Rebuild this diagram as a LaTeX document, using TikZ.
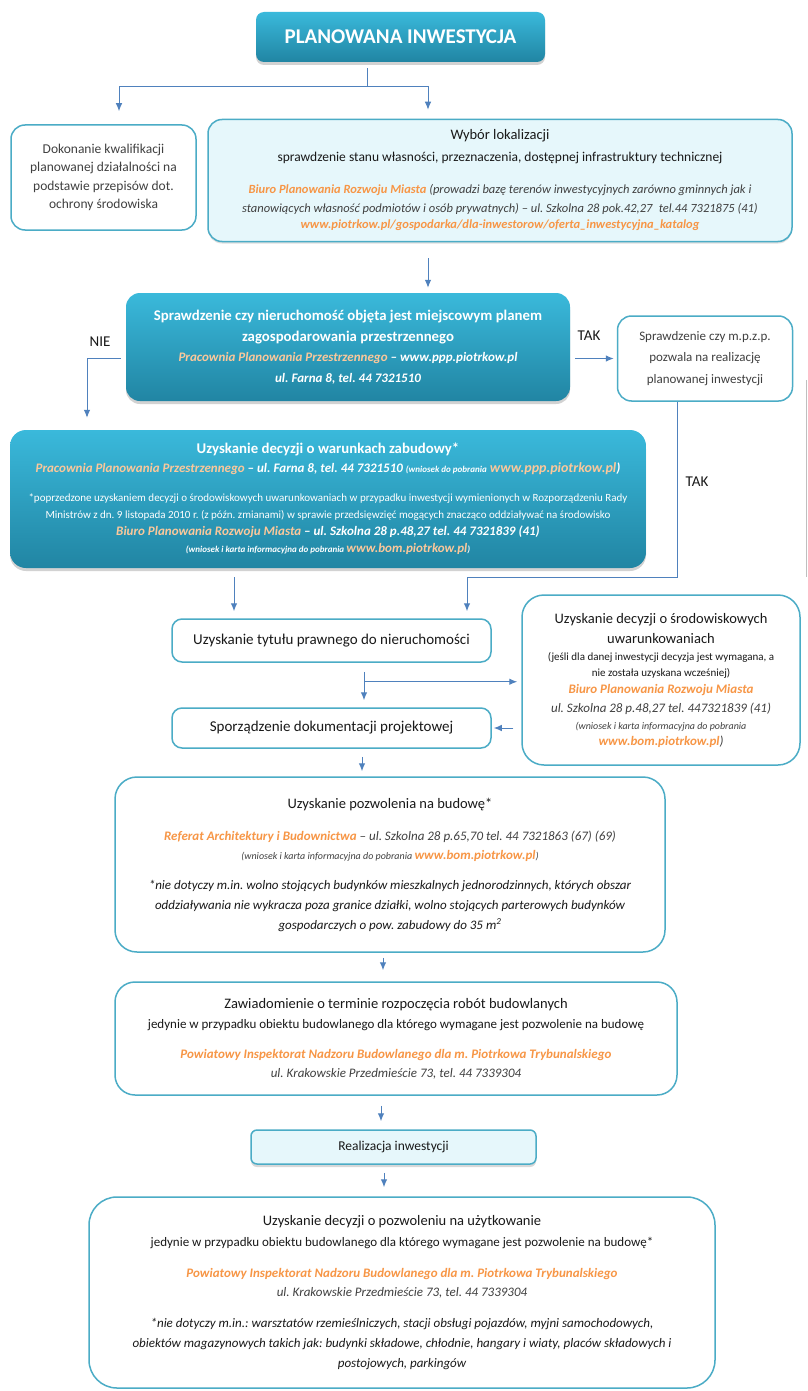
\documentclass[tikz,border=0pt]{standalone}
\usepackage{fontspec}
\setmainfont{Carlito}
\usetikzlibrary{shapes,arrows,arrows.meta,positioning,shadows}
\usepackage{xcolor}
\frenchspacing

\definecolor{ramka}{RGB}{75,172,198}
\definecolor{strzalka}{RGB}{79,129,189}
\definecolor{pomar}{RGB}{247,150,70}
\definecolor{jpomar}{RGB}{251,200,155}
\definecolor{morskig}{RGB}{58,185,219}
\definecolor{morskid}{RGB}{33,133,163}
\definecolor{blekit}{RGB}{230,247,251}
\definecolor{tekst}{RGB}{25,25,25}
\definecolor{szary}{RGB}{64,64,64}

\newcommand{\rozmiar}[2]{\fontsize{#1}{#2}\selectfont}
\newcommand{\pomb}{\bfseries\itshape\color{pomar}}
\newcommand{\jpom}{\color{jpomar}}

\tikzset{
  morski/.style={rectangle, rounded corners=14pt, top color=morskig, bottom color=morskid,
    draw=none, text=white, align=center, inner sep=0pt,
    drop shadow={shadow xshift=0pt, shadow yshift=-3pt, opacity=0.35}},
  bialy/.style={rectangle, rounded corners=14pt, draw=ramka, line width=1.5pt,
    fill=white, text=tekst, align=center, inner sep=0pt},
  jasnyblok/.style={bialy, fill=blekit},
  strz/.style={-{Latex[length=8pt,width=6.5pt]}, draw=strzalka, line width=1pt},
  linia/.style={draw=strzalka, line width=1pt},
  etykieta/.style={text=tekst, font=\rozmiar{15}{17}},
}

\begin{document}
\begin{tikzpicture}[x=1pt, y=-1pt]
    \useasboundingbox[fill=white] (0,0) rectangle (807,1391);

    % Bloki
    \node[morski, rounded corners=8pt, minimum width=289, minimum height=50,
      font=\bfseries\rozmiar{21}{23}] (start) at (400.5,37) {PLANOWANA INWESTYCJA};

    \node[bialy, minimum width=185, minimum height=105, text=szary,
      font=\rozmiar{13.5}{18.5}] (dok) at (103.5,177.5)
      {Dokonanie kwalifikacji\\planowanej działalności na\\podstawie przepisów dot.\\ochrony środowiska};

    \node[jasnyblok, minimum width=584, minimum height=122,
      drop shadow={shadow xshift=0pt, shadow yshift=-2pt, opacity=0.25},
      font=\rozmiar{13.5}{19}] (wyb) at (500,180.5)
      {{\rozmiar{14.5}{19}Wybór lokalizacji}\\[3pt]
       sprawdzenie stanu własności, przeznaczenia, dostępnej infrastruktury technicznej\\[13pt]
       {\rozmiar{12.5}{19}\pomb Biuro Planowania Rozwoju Miasta \mdseries\color{szary}(prowadzi bazę terenów inwestycyjnych zarówno gminnych jak i}\\
       {\rozmiar{12.5}{19}\itshape\color{szary}stanowiących własność podmiotów i osób prywatnych) – ul. Szkolna 28 pok.42,27\enspace tel.44 7321875 (41)}\\[-3pt]
       {\rozmiar{12.5}{19}\pomb www.piotrkow.pl/gospodarka/dla-inwestorow/oferta\_inwestycyjna\_katalog}};

    \node[morski, minimum width=444, minimum height=108,
      font=\bfseries\rozmiar{14.8}{20.5}] (spr) at (348,347)
      {Sprawdzenie czy nieruchomość objęta jest miejscowym planem\\
       zagospodarowania przestrzennego\\
       {\itshape\rozmiar{13}{20}{\jpom Pracownia Planowania Przestrzennego} – www.ppp.piotrkow.pl}\\
       {\itshape\rozmiar{13}{20}ul. Farna 8, tel. 44 7321510}};

    \node[bialy, minimum width=175, minimum height=85, text=szary,
      font=\rozmiar{13}{21.5}] (mpzp) at (705,358.5)
      {Sprawdzenie czy m.p.z.p.\\pozwala na realizację\\planowanej inwestycji};

    \node[morski, rounded corners=16pt, minimum width=636, minimum height=138,
      font=\rozmiar{13}{17}] (war) at (328,499)
      {{\bfseries\rozmiar{14.8}{17}Uzyskanie decyzji o warunkach zabudowy*}\\[2pt]
       {\bfseries\itshape{\jpom Pracownia Planowania Przestrzennego} – ul. Farna 8, tel. 44 7321510 {\rozmiar{9}{10}(wniosek do pobrania} {\jpom\rozmiar{14}{10}www.ppp.piotrkow.pl})}\\[12pt]
       {\rozmiar{11}{12}*poprzedzone uzyskaniem decyzji o środowiskowych uwarunkowaniach w przypadku inwestycji wymienionych w Rozporządzeniu Rady}\\
       {\rozmiar{11}{12}Ministrów z dn. 9 listopada 2010 r. (z późn. zmianami) w sprawie przedsięwzięć mogących znacząco oddziaływać na środowisko}\\
       {\bfseries\itshape{\jpom Biuro Planowania Rozwoju Miasta} – ul. Szkolna 28 p.48,27 tel. 44 7321839 (41)}\\
       {\bfseries\itshape\rozmiar{9}{10}(wniosek i karta informacyjna do pobrania {\jpom\rozmiar{13}{10}www.bom.piotrkow.pl})}};

    \node[bialy, rounded corners=10pt, minimum width=319, minimum height=43,
      font=\rozmiar{15}{17}] (tyt) at (331.5,640.5) {Uzyskanie tytułu prawnego do nieruchomości};

    \node[bialy, rounded corners=10pt, minimum width=319, minimum height=40,
      font=\rozmiar{15}{17}] (spo) at (331.5,728) {Sporządzenie dokumentacji projektowej};

    \node[bialy, rounded corners=22pt, minimum width=278, minimum height=170,
      font=\rozmiar{13}{17}] (sro) at (661,680)
      {{\rozmiar{14.5}{17}Uzyskanie decyzji o środowiskowych}\\[3pt]
       {\rozmiar{14.5}{17}uwarunkowaniach}\\
       {\rozmiar{11}{12}(jeśli dla danej inwestycji decyzja jest wymagana, a}\\[-1pt]
       {\rozmiar{11}{12}nie została uzyskana wcześniej)}\\
       {\pomb Biuro Planowania Rozwoju Miasta}\\[2pt]
       {\itshape\color{szary}ul. Szkolna 28 p.48,27 tel. 447321839 (41)}\\
       {\itshape\color{szary}\rozmiar{10}{12}(wniosek i karta informacyjna do pobrania}\\[-1pt]
       {\pomb www.bom.piotrkow.pl{\mdseries\color{szary})}}};

    \node[bialy, rounded corners=22pt, minimum width=550, minimum height=175,
      font=\rozmiar{13}{20}] (poz) at (390,864.5)
      {{\rozmiar{14.5}{17}Uzyskanie pozwolenia na budowę*}\\[12pt]
       {\pomb Referat Architektury i Budownictwa} {\itshape\color{szary}– ul. Szkolna 28 p.65,70 tel. 44 7321863 (67) (69)}\\[-1pt]
       {\itshape\color{szary}\rozmiar{10}{12}(wniosek i karta informacyjna do pobrania {\pomb\rozmiar{13}{12}www.bom.piotrkow.pl})}\\[10pt]
       {\itshape *nie dotyczy m.in. wolno stojących budynków mieszkalnych jednorodzinnych, których obszar}\\
       {\itshape oddziaływania nie wykracza poza granice działki, wolno stojących parterowych budynków}\\
       {\itshape gospodarczych o pow. zabudowy do 35 m\textsuperscript{2}}};

    \node[bialy, rounded corners=20pt, minimum width=562, minimum height=113,
      font=\rozmiar{13}{19}] (zaw) at (396,1038.5)
      {{\rozmiar{14.5}{17}Zawiadomienie o terminie rozpoczęcia robót budowlanych}\\[1pt]
       jedynie w przypadku obiektu budowlanego dla którego wymagane jest pozwolenie na budowę\\[11pt]
       {\pomb Powiatowy Inspektorat Nadzoru Budowlanego dla m. Piotrkowa Trybunalskiego}\\
       {\itshape\color{szary}ul. Krakowskie Przedmieście 73, tel. 44 7339304}};

    \node[jasnyblok, rounded corners=6pt, minimum width=285, minimum height=34,
      drop shadow={shadow xshift=0pt, shadow yshift=-3pt, opacity=0.3},
      font=\rozmiar{13.5}{15}] (rea) at (393.5,1147) {Realizacja inwestycji};

    \node[bialy, rounded corners=28pt, minimum width=626, minimum height=191,
      font=\rozmiar{13}{20}] (uzy) at (402,1292.5)
      {{\rozmiar{14.5}{17}Uzyskanie decyzji o pozwoleniu na użytkowanie}\\[1pt]
       jedynie w przypadku obiektu budowlanego dla którego wymagane jest pozwolenie na budowę*\\[11pt]
       {\pomb Powiatowy Inspektorat Nadzoru Budowlanego dla m. Piotrkowa Trybunalskiego}\\[-1pt]
       {\itshape\color{szary}ul. Krakowskie Przedmieście 73, tel. 44 7339304}\\[11pt]
       {\itshape *nie dotyczy m.in.: warsztatów rzemieślniczych, stacji obsługi pojazdów, myjni samochodowych,}\\
       {\itshape obiektów magazynowych takich jak: budynki składowe, chłodnie, hangary i wiaty, placów składowych i}\\
       {\itshape postojowych, parkingów}};

    % Etykiety
    \node[etykieta] (nie) at (100,342) {NIE};
    \node[etykieta] (tak1) at (589,336) {TAK};
    \node[etykieta] (tak2) at (697,482) {TAK};

    % Polaczenia
    \draw[linia] ([xshift=-33.5pt, yshift=-6pt]start.south) -- ++(0,18) coordinate (rozw);
    \draw[strz] (rozw) -| ([xshift=15.5pt, yshift=13pt]dok.north);
    \draw[strz] (rozw) -| ([xshift=-72pt, yshift=9pt]wyb.north);
    \draw[strz] ([xshift=-72pt, yshift=-16pt]wyb.south) -- ([xshift=80pt, yshift=5pt]spr.north);
    \draw[strz, shorten <=5pt] (spr.west |- mpzp.west) -| ([xshift=-241pt, yshift=12pt]war.north);
    \draw[strz, shorten <=5pt, shorten >=3pt] (spr.east |- mpzp.west) -- (mpzp.west);
    \draw[strz] ([xshift=-28pt]mpzp.south) -- ++(0,176) -| ([xshift=135.5pt, yshift=7pt]tyt.north);
    \draw[strz] ([xshift=-94pt, yshift=-9pt]war.south) -- ([xshift=-97.5pt, yshift=7pt]tyt.north);
    \draw[linia] ([xshift=32.5pt, yshift=-9pt]tyt.south) -- ++(0,10) coordinate (rozw2);
    \draw[strz] (rozw2) -- ([xshift=32.5pt, yshift=7pt]spo.north);
    \draw[strz, shorten >=4pt] (rozw2) -- (rozw2 -| sro.west);
    \draw[strz, shorten <=8pt, shorten >=2pt] (sro.west |- spo.east) -- (spo.east);
    \draw[strz] ([xshift=30.5pt, yshift=-8pt]spo.south) -- ([xshift=-28pt, yshift=5pt]poz.north);
    \draw[strz] ([xshift=-7pt, yshift=-5pt]poz.south) -- ([xshift=-13pt, yshift=11pt]zaw.north);
    \draw[strz] ([xshift=-15pt, yshift=-10pt]zaw.south) -- ([xshift=-12.5pt, yshift=8pt]rea.north);
    \draw[strz] ([xshift=-9.5pt, yshift=-8pt]rea.south) -- ([xshift=-18pt, yshift=9pt]uzy.north);
    \draw[gray!50, line width=0.8pt] (806,380) -- (806,577);
\end{tikzpicture}
\end{document}
